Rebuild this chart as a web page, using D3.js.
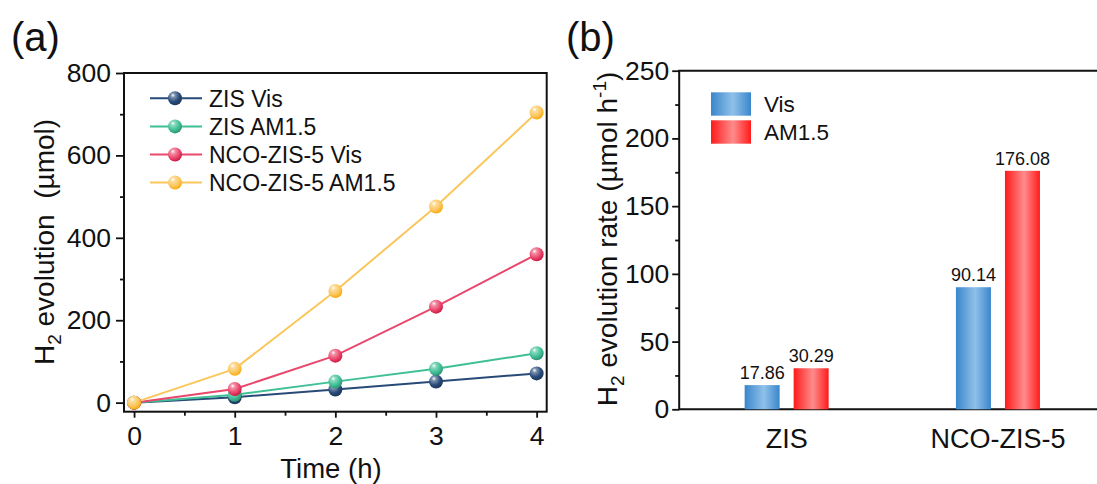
<!DOCTYPE html>
<html><head><meta charset="utf-8">
<script src="https://cdn.jsdelivr.net/npm/d3@7"></script>
<style>body{margin:0;background:#fff} text{font-family:"Liberation Sans",Arial,sans-serif;fill:#111}</style>
</head><body><svg id="c" width="1097" height="484"></svg>
<script>
// ---- panel (a) data ----
const times = [0, 1, 2, 3, 4];
const seriesNames = ["ZIS Vis", "ZIS AM1.5", "NCO-ZIS-5 Vis", "NCO-ZIS-5 AM1.5"];
const zisVis = [0, 13, 32, 51, 71];
const zisAM = [0, 19, 51, 82, 120];
const ncoVis = [0, 33, 114, 233, 360];
const ncoAM = [0, 82, 271, 476, 704];
const yTicksA = [0, 200, 400, 600, 800];
const yMinorA = [100, 300, 500, 700];
const xTicksA = [0, 1, 2, 3, 4];
const xMinorA = [0.5, 1.5, 2.5, 3.5];
// ---- panel (b) data ----
const categories = ["ZIS", "NCO-ZIS-5"];
const barSeries = ["Vis", "AM1.5"];
const visRates = [17.86, 90.14];
const amRates = [30.29, 176.08];
const yTicksB = [0, 50, 100, 150, 200, 250];
const yMinorB = [25, 75, 125, 175, 225];

const lineColors = ["#274a78", "#3fbf96", "#ea476c", "#fbc65c"];
const svg = d3.select("#c");
const defs = svg.append("defs");

function shade(c, k) { const h = d3.hsl(c); h.l = Math.max(0, Math.min(1, h.l * k)); return h.formatHex(); }
lineColors.forEach((c, i) => {
  const g = defs.append("radialGradient").attr("id", "sph" + i)
    .attr("cx", "38%").attr("cy", "32%").attr("r", "70%").attr("fx", "35%").attr("fy", "28%");
  g.append("stop").attr("offset", "0%").attr("stop-color", "#ffffff");
  g.append("stop").attr("offset", "22%").attr("stop-color", d3.interpolateRgb(c, "#fff")(0.4));
  g.append("stop").attr("offset", "65%").attr("stop-color", c);
  g.append("stop").attr("offset", "100%").attr("stop-color", shade(c, 0.75));
});
function barGrad(id, edge, mid) {
  const g = defs.append("linearGradient").attr("id", id).attr("x1", "0%").attr("x2", "100%").attr("y1", "0%").attr("y2", "0%");
  g.append("stop").attr("offset", "0%").attr("stop-color", edge);
  g.append("stop").attr("offset", "55%").attr("stop-color", mid);
  g.append("stop").attr("offset", "100%").attr("stop-color", edge);
}
barGrad("gVis", "#3a86cc", "#8fc1e9");
barGrad("gAM", "#ff1a1a", "#ff8c8c");

// ================= Panel (a) =================
const xA = d3.scaleLinear().domain([-0.1, 4.1]).range([124, 546.7]);
const yA = d3.scaleLinear().domain([-22, 800]).range([411.7, 73]);
const gA = svg.append("g");

function styleAxis(g) {
  g.select(".domain").remove();
  g.selectAll("line").attr("stroke", "#111").attr("stroke-width", 1.8);
  g.selectAll("text").style("font-size", "26.5px").attr("fill", "#111");
}
gA.append("g").attr("transform", `translate(0,${yA.range()[0]})`)
  .call(d3.axisBottom(xA).tickValues(xTicksA).tickFormat(d3.format("d")).tickSize(6).tickPadding(8))
  .call(styleAxis).selectAll("text").attr("dy", "0.71em");
gA.append("g").attr("transform", `translate(0,${yA.range()[0]})`)
  .call(d3.axisBottom(xA).tickValues(xMinorA).tickFormat("").tickSize(4)).call(styleAxis);
gA.append("g").attr("transform", `translate(${xA.range()[0]},0)`)
  .call(d3.axisLeft(yA).tickValues(yTicksA).tickFormat(d3.format("d")).tickSize(8).tickPadding(5))
  .call(styleAxis);
gA.append("g").attr("transform", `translate(${xA.range()[0]},0)`)
  .call(d3.axisLeft(yA).tickValues(yMinorA).tickFormat("").tickSize(4)).call(styleAxis);
gA.append("rect").attr("x", xA.range()[0]).attr("y", yA.range()[1])
  .attr("width", xA.range()[1] - xA.range()[0]).attr("height", yA.range()[0] - yA.range()[1])
  .attr("fill", "none").attr("stroke", "#111").attr("stroke-width", 2);

const seriesA = [zisVis, zisAM, ncoVis, ncoAM];
const line = d3.line().x((d, i) => xA(times[i])).y(d => yA(d));
seriesA.forEach((s, k) => {
  gA.append("path").datum(s).attr("d", line).attr("fill", "none")
    .attr("stroke", lineColors[k]).attr("stroke-width", 2);
});
seriesA.forEach((s, k) => {
  gA.selectAll(null).data(s).enter().append("circle")
    .attr("cx", (d, i) => xA(times[i])).attr("cy", d => yA(d)).attr("r", 7)
    .attr("fill", `url(#sph${k})`);
});
// legend (a)
const legA = gA.append("g");
seriesNames.forEach((n, k) => {
  const yy = 98.3 + k * 28.1;
  legA.append("line").attr("x1", 150).attr("x2", 202).attr("y1", yy).attr("y2", yy)
    .attr("stroke", lineColors[k]).attr("stroke-width", 2);
  legA.append("circle").attr("cx", 175).attr("cy", yy).attr("r", 7).attr("fill", `url(#sph${k})`);
  legA.append("text").attr("x", 209).attr("y", yy).attr("dy", "0.36em").style("font-size", "23px").text(n);
});
// axis titles (a)
gA.append("text").attr("x", 331).attr("y", 478).attr("text-anchor", "middle").style("font-size", "27.5px").text("Time (h)");
const tA = gA.append("text").attr("transform", "translate(54,242) rotate(-90)").attr("text-anchor", "middle").style("font-size", "28px");
tA.append("tspan").text("H");
tA.append("tspan").attr("dy", 7).style("font-size", "19px").text("2");
tA.append("tspan").attr("dy", -7).text("\u00A0evolution\u00A0\u00A0(µmol)");
svg.append("text").attr("x", 11).attr("y", 51).style("font-size", "40px").text("(a)");

// ================= Panel (b) =================
const xB = d3.scaleBand().domain(categories).range([681, 1103.6]);
const xInner = d3.scaleBand().domain(barSeries).range([-42, 42]).paddingInner(0.2857);
const yB = d3.scaleLinear().domain([0, 250]).range([409.3, 70.7]);
const gB = svg.append("g");
const frameLeft = 679.2;
gB.append("g").attr("transform", `translate(${frameLeft},0)`)
  .call(d3.axisLeft(yB).tickValues(yTicksB).tickSize(7).tickPadding(3)).call(styleAxis);
gB.append("g").attr("transform", `translate(${frameLeft},0)`)
  .call(d3.axisLeft(yB).tickValues(yMinorB).tickFormat("").tickSize(4)).call(styleAxis);
gB.append("path").attr("d", `M1100,${yB(250)}H${frameLeft}V${yB(0)}H1100`)
  .attr("fill", "none").attr("stroke", "#111").attr("stroke-width", 2);

const barData = [];
categories.forEach((c, i) => {
  barData.push({cat: c, ser: "Vis", v: visRates[i]});
  barData.push({cat: c, ser: "AM1.5", v: amRates[i]});
});
gB.selectAll("rect.bar").data(barData).enter().append("rect").attr("class", "bar")
  .attr("x", d => xB(d.cat) + xB.bandwidth() / 2 + xInner(d.ser))
  .attr("width", xInner.bandwidth())
  .attr("y", d => yB(d.v)).attr("height", d => yB(0) - yB(d.v))
  .attr("fill", d => d.ser === "Vis" ? "url(#gVis)" : "url(#gAM)");
gB.selectAll("text.val").data(barData).enter().append("text").attr("class", "val")
  .attr("x", d => xB(d.cat) + xB.bandwidth() / 2 + xInner(d.ser) + xInner.bandwidth() / 2)
  .attr("y", d => yB(d.v) - 6).attr("text-anchor", "middle").style("font-size", "18px")
  .text(d => d.v.toFixed(2));
gB.selectAll("text.cat").data(categories).enter().append("text").attr("class", "cat")
  .attr("x", d => xB(d) + xB.bandwidth() / 2).attr("y", 448).attr("text-anchor", "middle")
  .style("font-size", "27px").text(d => d);
// legend (b)
barSeries.forEach((s, k) => {
  const yy = 104 + k * 28;
  gB.append("rect").attr("x", 711).attr("y", yy - 11.7).attr("width", 40).attr("height", 23.4)
    .attr("fill", k === 0 ? "url(#gVis)" : "url(#gAM)");
  gB.append("text").attr("x", 764).attr("y", yy).attr("dy", "0.36em").style("font-size", "22.5px").text(s);
});
const tB = gB.append("text").attr("transform", "translate(617,239) rotate(-90)").attr("text-anchor", "middle").style("font-size", "28px");
tB.append("tspan").text("H");
tB.append("tspan").attr("dy", 7).style("font-size", "19px").text("2");
tB.append("tspan").attr("dy", -7).text("\u00A0evolution rate (µmol h");
tB.append("tspan").attr("dy", -11).style("font-size", "19px").text("-1");
tB.append("tspan").attr("dy", 11).text(")");
svg.append("text").attr("x", 566).attr("y", 51).style("font-size", "40px").text("(b)");
</script></body></html>
